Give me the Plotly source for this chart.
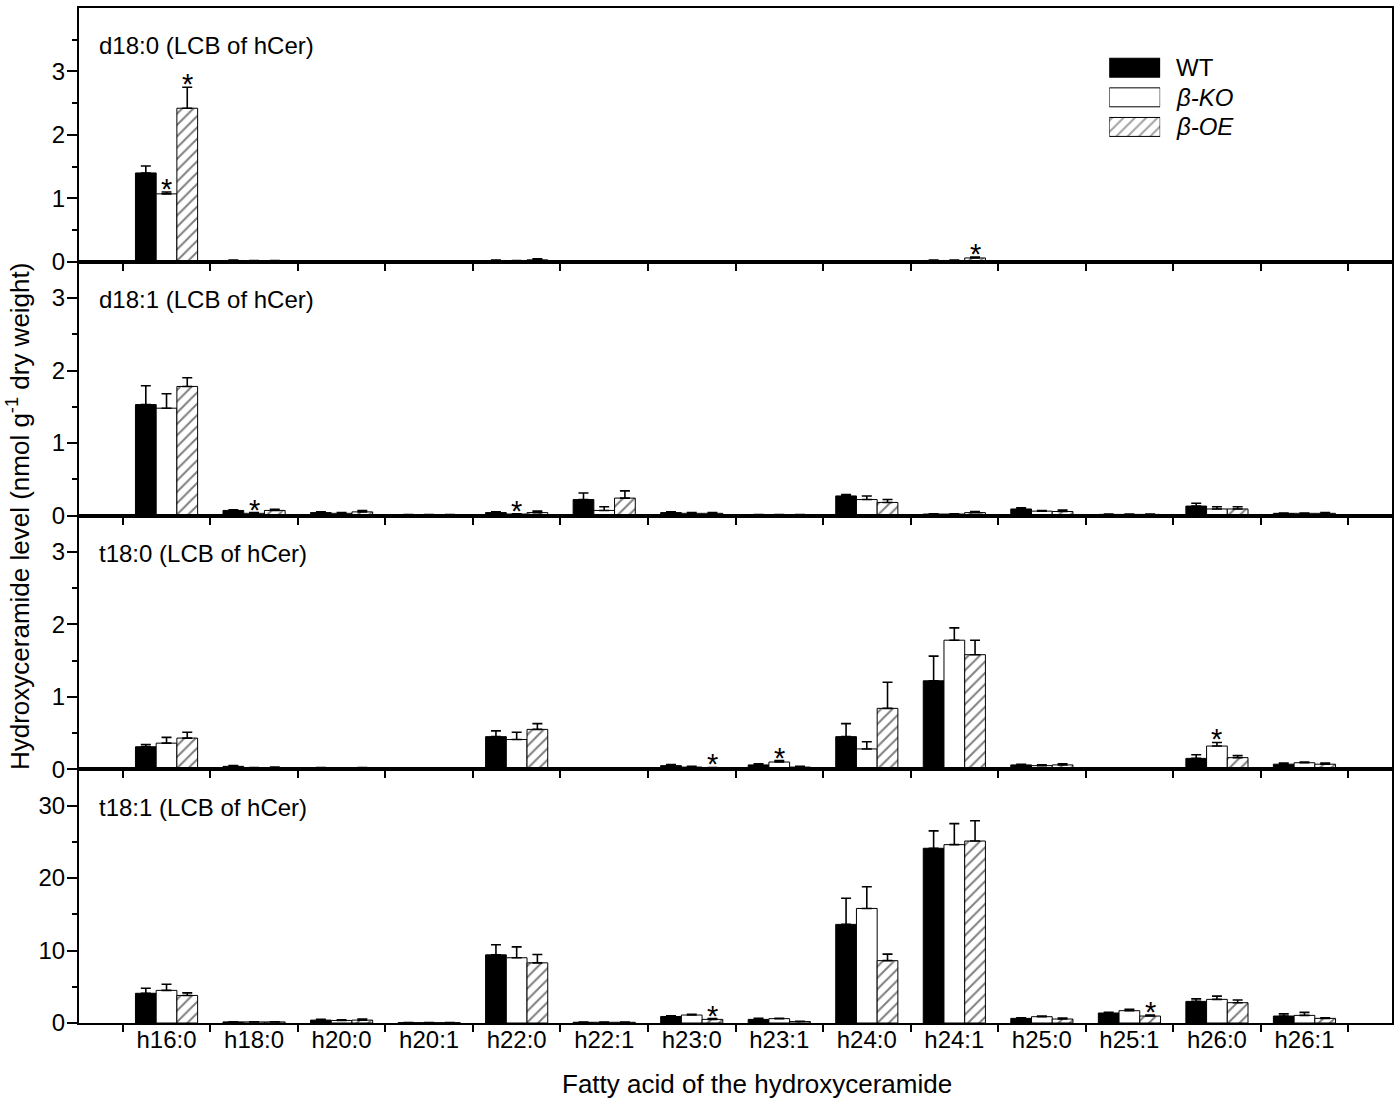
import plotly.graph_objects as go
from plotly.subplots import make_subplots

# categories and series
fatty_acids = ["h16:0", "h18:0", "h20:0", "h20:1", "h22:0", "h22:1", "h23:0",
               "h23:1", "h24:0", "h24:1", "h25:0", "h25:1", "h26:0", "h26:1"]
series_names = ["WT", "<i>β-KO</i>", "<i>β-OE</i>"]
panel_titles = ["d18:0 (LCB of hCer)", "d18:1 (LCB of hCer)",
                "t18:0 (LCB of hCer)", "t18:1 (LCB of hCer)"]

# d18:0 (nmol g-1 dry weight), mean and upper error
wt_d180 = [1.40, 0.02, 0.01, 0.01, 0.02, 0.005, 0.005, 0.01, 0.01, 0.02, 0.01, 0.005, 0.005, 0.005]
wt_d180_err = [0.11, 0.005, 0.003, 0.003, 0.005, 0.002, 0.002, 0.003, 0.003, 0.005, 0.003, 0.002, 0.002, 0.002]
ko_d180 = [1.07, 0.015, 0.01, 0.005, 0.015, 0.005, 0.005, 0.005, 0.01, 0.02, 0.005, 0.005, 0.005, 0.005]
ko_d180_err = [0.03, 0.005, 0.003, 0.002, 0.005, 0.002, 0.002, 0.002, 0.003, 0.005, 0.002, 0.002, 0.002, 0.002]
oe_d180 = [2.42, 0.015, 0.01, 0.005, 0.03, 0.005, 0.005, 0.01, 0.01, 0.06, 0.01, 0.005, 0.005, 0.005]
oe_d180_err = [0.33, 0.005, 0.003, 0.002, 0.015, 0.002, 0.002, 0.003, 0.003, 0.015, 0.003, 0.002, 0.002, 0.002]

# d18:1
wt_d181 = [1.53, 0.07, 0.04, 0.01, 0.04, 0.22, 0.04, 0.01, 0.27, 0.02, 0.09, 0.015, 0.13, 0.03]
wt_d181_err = [0.26, 0.01, 0.01, 0.003, 0.01, 0.09, 0.01, 0.003, 0.02, 0.005, 0.015, 0.005, 0.04, 0.005]
ko_d181 = [1.48, 0.03, 0.03, 0.01, 0.02, 0.07, 0.03, 0.01, 0.22, 0.02, 0.06, 0.015, 0.09, 0.03]
ko_d181_err = [0.20, 0.01, 0.01, 0.003, 0.005, 0.05, 0.01, 0.003, 0.05, 0.005, 0.01, 0.005, 0.03, 0.005]
oe_d181 = [1.78, 0.07, 0.05, 0.01, 0.04, 0.24, 0.03, 0.01, 0.18, 0.04, 0.055, 0.015, 0.09, 0.03]
oe_d181_err = [0.12, 0.015, 0.02, 0.003, 0.02, 0.10, 0.01, 0.003, 0.04, 0.015, 0.02, 0.005, 0.03, 0.01]

# t18:0
wt_t180 = [0.31, 0.04, 0.02, 0.015, 0.45, 0.01, 0.05, 0.06, 0.45, 1.22, 0.06, 0.01, 0.15, 0.07]
wt_t180_err = [0.03, 0.01, 0.005, 0.005, 0.08, 0.003, 0.015, 0.015, 0.18, 0.34, 0.01, 0.003, 0.05, 0.015]
ko_t180 = [0.36, 0.02, 0.015, 0.01, 0.41, 0.01, 0.03, 0.10, 0.28, 1.78, 0.05, 0.01, 0.32, 0.09]
ko_t180_err = [0.08, 0.005, 0.005, 0.003, 0.10, 0.003, 0.01, 0.02, 0.10, 0.17, 0.01, 0.003, 0.05, 0.01]
oe_t180 = [0.43, 0.02, 0.02, 0.01, 0.55, 0.01, 0.02, 0.03, 0.84, 1.58, 0.06, 0.015, 0.16, 0.07]
oe_t180_err = [0.08, 0.01, 0.005, 0.003, 0.08, 0.003, 0.005, 0.01, 0.36, 0.20, 0.015, 0.005, 0.03, 0.015]

# t18:1
wt_t181 = [4.1, 0.15, 0.4, 0.05, 9.4, 0.1, 0.9, 0.5, 13.6, 24.1, 0.64, 1.38, 2.98, 0.96]
wt_t181_err = [0.7, 0.03, 0.1, 0.01, 1.4, 0.03, 0.1, 0.15, 3.6, 2.4, 0.08, 0.1, 0.35, 0.3]
ko_t181 = [4.5, 0.15, 0.35, 0.05, 9.0, 0.1, 1.1, 0.6, 15.8, 24.6, 0.87, 1.7, 3.26, 1.05]
ko_t181_err = [0.85, 0.03, 0.1, 0.01, 1.5, 0.03, 0.1, 0.05, 3.0, 2.9, 0.08, 0.18, 0.45, 0.42]
oe_t181 = [3.8, 0.15, 0.4, 0.05, 8.3, 0.1, 0.5, 0.2, 8.6, 25.1, 0.55, 0.96, 2.8, 0.64]
oe_t181_err = [0.35, 0.03, 0.15, 0.01, 1.15, 0.03, 0.1, 0.03, 0.9, 2.8, 0.12, 0.14, 0.37, 0.09]

# significant differences (category, series index: 0 WT, 1 KO, 2 OE)
stars_d180 = [("h16:0", 1), ("h16:0", 2), ("h24:1", 2)]
stars_d181 = [("h18:0", 1), ("h22:0", 1)]
stars_t180 = [("h23:0", 2), ("h23:1", 1), ("h26:0", 1)]
stars_t181 = [("h23:0", 2), ("h25:1", 2)]

FONT = "Liberation Sans, Arial, sans-serif"
BARGAP = 0.29

panels = [
    ([wt_d180, ko_d180, oe_d180], [wt_d180_err, ko_d180_err, oe_d180_err], stars_d180,
     [0, 4], [0, 1, 2, 3], [0.5, 1.5, 2.5, 3.5]),
    ([wt_d181, ko_d181, oe_d181], [wt_d181_err, ko_d181_err, oe_d181_err], stars_d181,
     [0, 3.5], [0, 1, 2, 3], [0.5, 1.5, 2.5]),
    ([wt_t180, ko_t180, oe_t180], [wt_t180_err, ko_t180_err, oe_t180_err], stars_t180,
     [0, 3.5], [0, 1, 2, 3], [0.5, 1.5, 2.5]),
    ([wt_t181, ko_t181, oe_t181], [wt_t181_err, ko_t181_err, oe_t181_err], stars_t181,
     [0, 35], [0, 10, 20, 30], [5, 15, 25]),
]

hatch = dict(shape="/", fgcolor="black", size=8, solidity=0.25)
bar_styles = [
    dict(color="black", line=dict(color="black", width=1)),
    dict(color="white", line=dict(color="black", width=1)),
    dict(color="white", line=dict(color="black", width=1), pattern=hatch),
]

fig = make_subplots(rows=4, cols=1, shared_xaxes=True, vertical_spacing=0)

annotations = []
bar_w = (1 - BARGAP) / 3
for r, (means, errs, stars, yrange, major, minor) in enumerate(panels, start=1):
    for k in range(3):
        fig.add_trace(go.Bar(
            x=fatty_acids, y=means[k], name=series_names[k],
            marker=bar_styles[k], showlegend=False,
            error_y=dict(type="data", array=errs[k], arrayminus=[0] * len(errs[k]),
                         symmetric=False, color="black", thickness=1.6, width=5),
        ), row=r, col=1)

    # asterisks: short clipped box so only the glyph area is used
    for cat, k in stars:
        i = fatty_acids.index(cat)
        annotations.append(dict(
            x=i + (k - 1) * bar_w, y=means[k][i] + errs[k][i],
            xref="x" if r == 1 else f"x{r}", yref="y" if r == 1 else f"y{r}",
            text="*", showarrow=False, yanchor="bottom", valign="top",
            height=18, yshift=-1,
            font=dict(family=FONT, size=29, color="black"),
        ))

    annotations.append(dict(
        x=0.014, y=1 - 38 / 254.25, xref="x domain" if r == 1 else f"x{r} domain",
        yref="y domain" if r == 1 else f"y{r} domain",
        text=panel_titles[r - 1], showarrow=False, xanchor="left", yanchor="middle",
        font=dict(family=FONT, size=24, color="black"),
    ))

    fig.update_yaxes(
        range=yrange, tickvals=major, ticks="outside", ticklen=10, tickwidth=1.5,
        tickcolor="black", showline=True, linewidth=2, linecolor="black", mirror=True,
        showgrid=False, zeroline=False, ticklabelstandoff=-3,
        minor=dict(tickvals=minor, ticks="outside", ticklen=5, tickwidth=1.5, tickcolor="black"),
        tickfont=dict(family=FONT, size=24, color="black"),
        row=r, col=1,
    )

fig.update_xaxes(
    type="category", categoryorder="array", categoryarray=fatty_acids,
    range=[-1, 14], tickson="boundaries", ticks="outside", ticklen=7, tickwidth=1.5,
    tickcolor="black", showline=True, linewidth=2, linecolor="black", mirror=True,
    showgrid=False, zeroline=False, ticklabelstandoff=-6,
    tickfont=dict(family=FONT, size=24, color="black"),
)

# legend swatches drawn as a small inset bar chart
L, R, T, B = 79, 1393, 6, 1023
W, H = R - L, B - T
leg_top, leg_bot = 51, 140
fig.add_trace(go.Bar(
    x=[1, 1, 1], y=series_names, orientation="h", xaxis="x5", yaxis="y5",
    width=0.64, showlegend=False, hoverinfo="skip",
    marker=dict(color=["black", "white", "white"], line=dict(color="black", width=1),
                pattern=dict(shape=["", "", "/"], fgcolor="black", size=8, solidity=0.25)),
))
fig.update_layout(
    xaxis5=dict(domain=[(1110 - L) / W, (1161 - L) / W], range=[0, 1], visible=False,
                anchor="y5", fixedrange=True),
    yaxis5=dict(domain=[(B - leg_bot) / H, (B - leg_top) / H], anchor="x5", visible=False,
                type="category", categoryorder="array", categoryarray=series_names[::-1],
                range=[-0.5, 2.5], fixedrange=True),
)
leg_rows = [66, 95.5, 125]
for name, py in zip(series_names, leg_rows):
    annotations.append(dict(
        x=(1175 - L) / W, y=(B - py) / H, xref="paper", yref="paper", text=name,
        showarrow=False, xanchor="left", yanchor="middle",
        font=dict(family=FONT, size=24, color="black"),
    ))

# axis titles
annotations.append(dict(
    x=(758 - L) / W, y=(B - 1084) / H, xref="paper", yref="paper",
    text="Fatty acid of the hydroxyceramide", showarrow=False,
    xanchor="center", yanchor="middle", font=dict(family=FONT, size=26, color="black"),
))
annotations.append(dict(
    x=(19 - L) / W, y=(B - 516) / H, xref="paper", yref="paper", textangle=-90,
    text="Hydroxyceramide level (nmol g<sup>-1</sup> dry weight)",
    showarrow=False, xanchor="center", yanchor="middle",
    font=dict(family=FONT, size=26, color="black"),
))

fig.update_layout(
    width=1400, height=1107,
    margin=dict(l=L, r=1400 - R, t=T, b=1107 - B),
    barmode="group", bargap=BARGAP, bargroupgap=0,
    plot_bgcolor="white", paper_bgcolor="white",
    annotations=annotations, showlegend=False,
    font=dict(family=FONT, color="black"),
)

fig.write_html("out.html", config={"displayModeBar": False},
               post_script="document.body.style.margin = '0';")
